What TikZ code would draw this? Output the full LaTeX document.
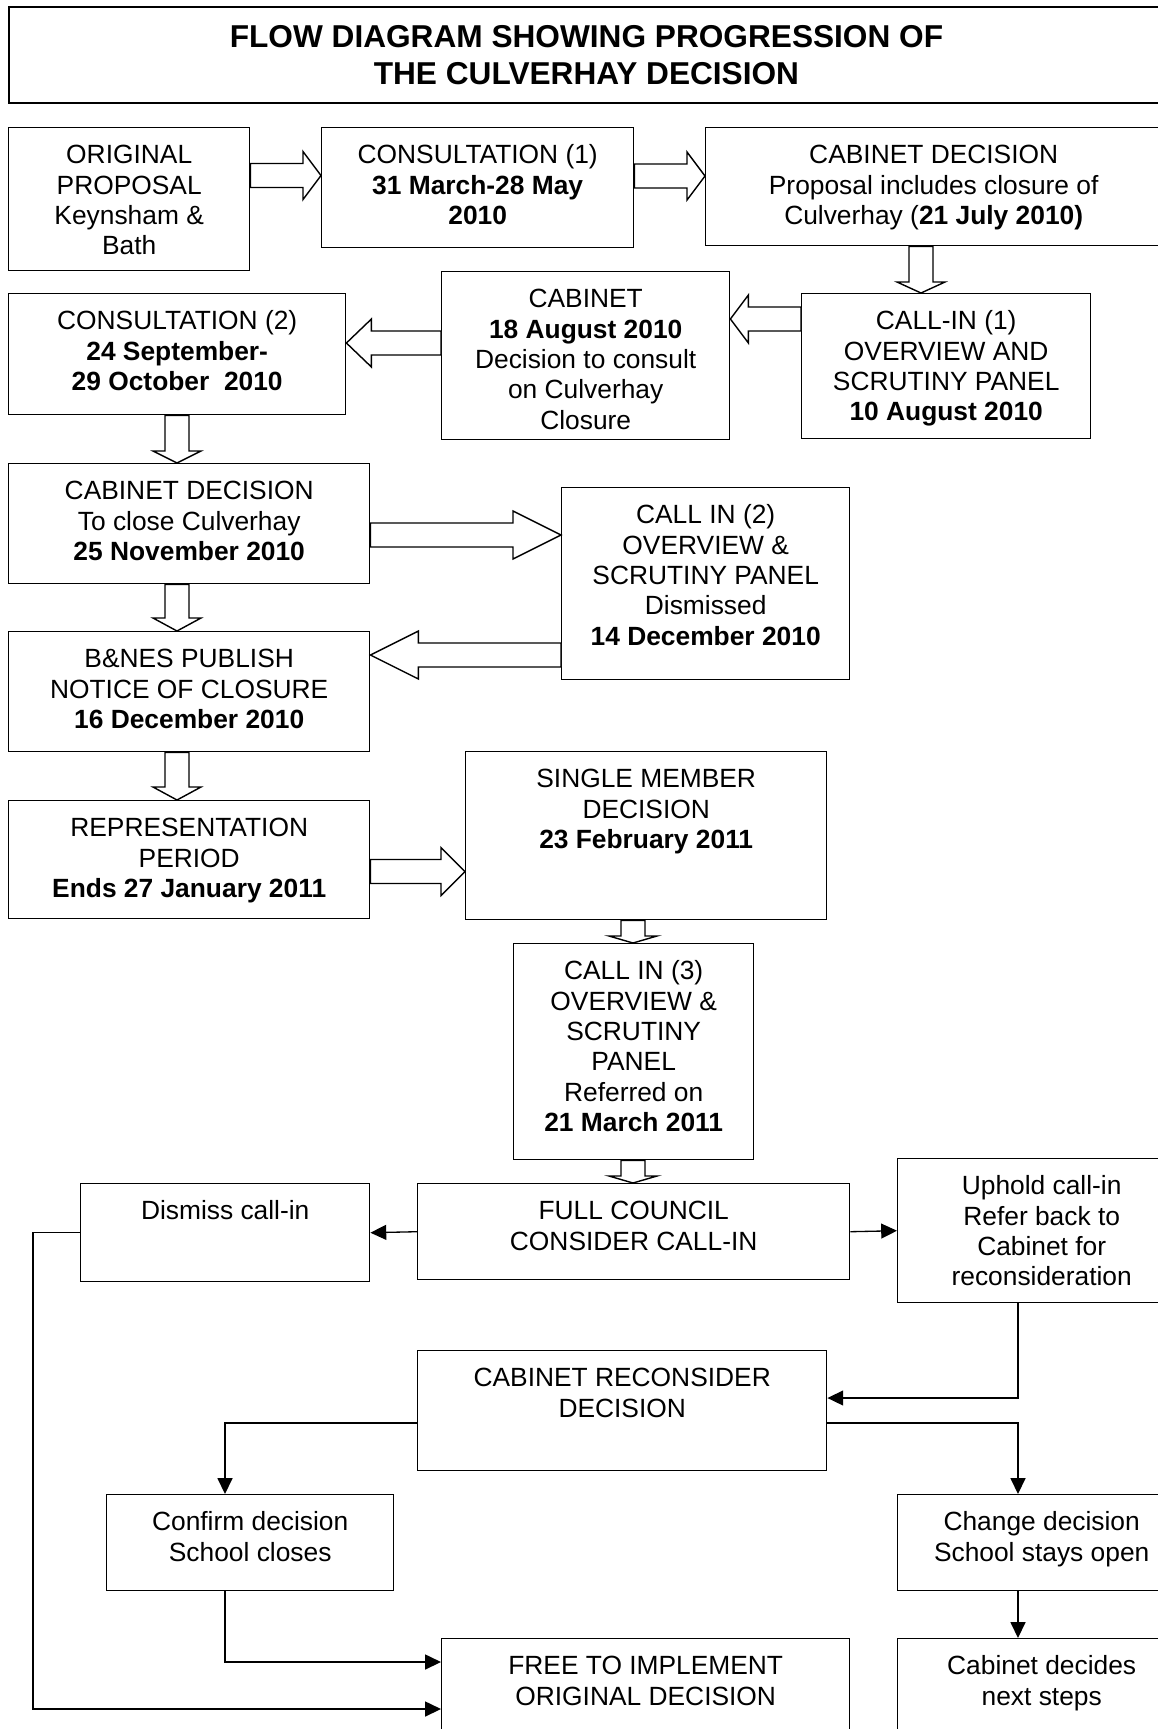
\documentclass[tikz,border=0pt]{standalone}
\usepackage{fontspec}
\setmainfont{Liberation Sans}
\usetikzlibrary{arrows.meta, calc}

\newlength{\pxu}
\setlength{\pxu}{0.02cm}

% text block inside a box: width, height, text (top aligned)
\newcommand{\boxText}[3]{\parbox[t][#2\pxu][t]{#1\pxu}{\centering\rule{0pt}{20.5pt}\ignorespaces#3}}

% hollow block arrow, horizontal: from, to, centre y, head length
\newcommand{\blockH}[4]{%
  \draw[blockArrow] let \p1=(#1 |- 0,#3), \p2=(#2 |- 0,#3),
      \n1={(\x2-\x1)/abs(\x2-\x1)*#4*\pxu} in
    (\x1,{\y1+12*\pxu}) -- ({\x2-\n1},{\y1+12*\pxu}) -- ({\x2-\n1},{\y1+24*\pxu})
    -- (\x2,\y1) -- ({\x2-\n1},{\y1-24*\pxu}) -- ({\x2-\n1},{\y1-12*\pxu})
    -- (\x1,{\y1-12*\pxu}) -- cycle;}

% hollow block arrow, vertical: from, to, centre x, head length
\newcommand{\blockV}[4]{%
  \draw[blockArrow] let \p1=(#3,0 |- #1), \p2=(#3,0 |- #2),
      \n1={(\y2-\y1)/abs(\y2-\y1)*#4*\pxu} in
    ({\x1+12*\pxu},\y1) -- ({\x1+12*\pxu},{\y2-\n1}) -- ({\x1+24*\pxu},{\y2-\n1})
    -- (\x1,\y2) -- ({\x1-24*\pxu},{\y2-\n1}) -- ({\x1-12*\pxu},{\y2-\n1})
    -- ({\x1-12*\pxu},\y1) -- cycle;}

\tikzset{
    % Box Styles
    procBox/.style={
        rectangle,
        draw=black,
        line width=0.8pt,
        inner sep=0pt,
        anchor=north west,
        font=\fontsize{15pt}{17.3pt}\selectfont
    },
    titleBox/.style={
        procBox,
        line width=1.1pt,
        font=\fontsize{18pt}{21.3pt}\selectfont\bfseries
    },
    % Arrow & Line Styles
    blockArrow/.style={draw=black, fill=white, line width=0.8pt, line join=miter},
    flowLine/.style={-{Triangle[length=9pt, width=8.5pt]}, line width=0.75pt}
}

\begin{document}
\begin{tikzpicture}[x=0.02cm, y=-0.02cm]

    \useasboundingbox (0,0) rectangle (1158,1729);

    % --- TITLE ---
    \node (title) [titleBox] at (8,6) {\parbox[t][96\pxu][t]{1155\pxu}{\centering\rule{0pt}{23.1pt}%
        FLOW DIAGRAM SHOWING PROGRESSION OF\\
        THE CULVERHAY DECISION}};

    % --- FIRST ROUND ---
    \node (orig) [procBox] at (8,127) {\boxText{241}{143}{
        ORIGINAL\\ PROPOSAL\\ Keynsham \&\\ Bath}};
    \node (cons1) [procBox] at (321,127) {\boxText{312}{120}{
        CONSULTATION (1)\\ {\bfseries 31 March-28 May\\ 2010}}};
    \node (cabDec1) [procBox] at (705,127) {\boxText{456}{118}{
        CABINET DECISION\\ Proposal includes closure of\\ Culverhay ({\bfseries 21 July 2010)}}};
    \node (callIn1) [procBox] at (801,293) {\boxText{289}{145}{
        CALL-IN (1)\\ OVERVIEW AND\\ SCRUTINY PANEL\\ {\bfseries 10 August 2010}}};
    \node (cabinet2) [procBox] at (441,271) {\boxText{288}{168}{
        CABINET\\ {\bfseries 18 August 2010}\\ Decision to consult\\ on Culverhay\\ Closure}};

    % --- SECOND ROUND ---
    \node (cons2) [procBox] at (8,293) {\boxText{337}{121}{
        CONSULTATION (2)\\ {\bfseries 24 September-\\ 29 October\ \ 2010}}};
    \node (cabDec2) [procBox] at (8,463) {\boxText{361}{120}{
        CABINET DECISION\\ To close Culverhay\\ {\bfseries 25 November 2010}}};
    \node (callIn2) [procBox] at (561,487) {\boxText{288}{192}{
        CALL IN (2)\\ OVERVIEW \&\\ SCRUTINY PANEL\\ Dismissed\\ {\bfseries 14 December 2010}}};
    \node (notice) [procBox] at (8,631) {\boxText{361}{120}{
        B\&NES PUBLISH\\ NOTICE OF CLOSURE\\ {\bfseries 16 December 2010}}};
    \node (repr) [procBox] at (8,800) {\boxText{361}{118}{
        REPRESENTATION\\ PERIOD\\ {\bfseries Ends 27 January 2011}}};
    \node (single) [procBox] at (465,751) {\boxText{361}{168}{
        SINGLE MEMBER\\ DECISION\\ {\bfseries 23 February 2011}}};
    \node (callIn3) [procBox] at (513,943) {\boxText{240}{216}{
        CALL IN (3)\\ OVERVIEW \&\\ SCRUTINY\\ PANEL\\ Referred on\\ {\bfseries 21 March 2011}}};

    % --- FULL COUNCIL AND OUTCOMES ---
    \node (dismiss) [procBox] at (80,1183) {\boxText{289}{98}{Dismiss call-in}};
    \node (council) [procBox] at (417,1183) {\boxText{432}{96}{
        FULL COUNCIL\\ CONSIDER CALL-IN}};
    \node (uphold) [procBox] at (897,1158) {\boxText{288}{144}{
        Uphold call-in\\ Refer back to\\ Cabinet for\\ reconsideration}};
    \node (reconsider) [procBox] at (417,1350) {\boxText{409}{120}{
        CABINET RECONSIDER\\ DECISION}};
    \node (confirm) [procBox] at (106,1494) {\boxText{287}{96}{
        Confirm decision\\ School closes}};
    \node (change) [procBox] at (897,1494) {\boxText{288}{96}{
        Change decision\\ School stays open}};
    \node (implement) [procBox] at (441,1638) {\boxText{408}{110}{
        FREE TO IMPLEMENT\\ ORIGINAL DECISION}};
    \node (nextSteps) [procBox] at (897,1638) {\boxText{288}{110}{
        Cabinet decides\\ next steps}};

    % --- Block Arrows ---
    \blockH{orig.east}{cons1.west}{175.5}{18}
    \blockH{cons1.east}{cabDec1.west}{176}{18}
    \blockV{cabDec1.south}{callIn1.north}{921}{11}
    \blockH{callIn1.west}{cabinet2.east}{319}{18}
    \blockH{cabinet2.west}{cons2.east}{343}{25}
    \blockV{cons2.south}{cabDec2.north}{177}{12}
    \blockH{cabDec2.east}{callIn2.west}{535}{48}
    \blockH{callIn2.west}{notice.east}{655}{48}
    \blockV{cabDec2.south}{notice.north}{177}{13}
    \blockV{notice.south}{repr.north}{177}{13}
    \blockH{repr.east}{single.west}{871.5}{24}
    \blockV{single.south}{callIn3.north}{633}{7}
    \blockV{callIn3.south}{council.north}{633}{7}

    % --- Line Arrows ---
    \draw [flowLine] (council.west) -- (dismiss.east);
    \draw [flowLine] (council.east) -- (uphold.west);
    \draw [flowLine] (1018,0 |- uphold.south) |- (reconsider.east |- 0,1398);
    \draw [flowLine] (reconsider.west |- 0,1423) -| (225,0 |- confirm.north);
    \draw [flowLine] (reconsider.east |- 0,1423) -| (1018,0 |- change.north);
    \draw [flowLine] (225,0 |- confirm.south) |- (implement.west |- 0,1662);
    \draw [flowLine] (dismiss.west) -- (33,0 |- dismiss.west) |- (implement.west |- 0,1709);
    \draw [flowLine] (1018,0 |- change.south) -- (1018,0 |- nextSteps.north);

\end{tikzpicture}
\end{document}
